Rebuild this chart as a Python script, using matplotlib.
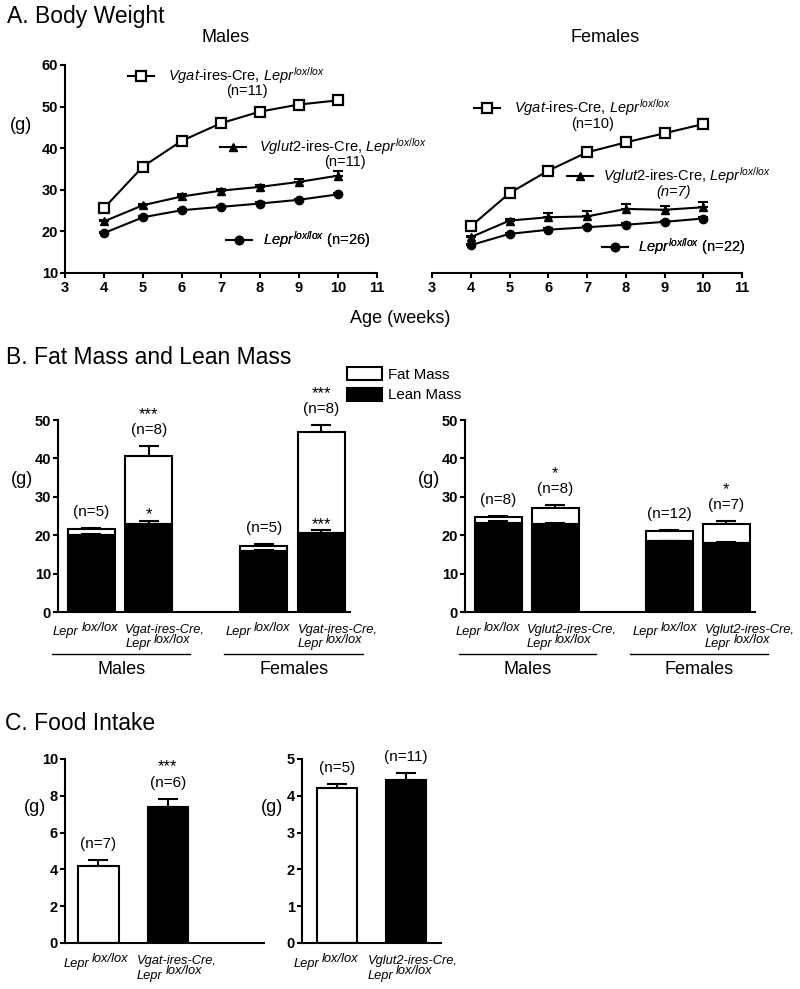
import matplotlib.pyplot as plt
import matplotlib.transforms as mtransforms
import numpy as np

W, H = 800, 989

plt.rcParams.update({
    "font.family": ["Liberation Sans", "DejaVu Sans"],
    "mathtext.fontset": "custom",
    "mathtext.rm": "Liberation Sans",
    "mathtext.it": "Liberation Sans:italic",
    "mathtext.bf": "Liberation Sans:bold",
    "axes.linewidth": 1.5,
    "axes.spines.top": False,
    "axes.spines.right": False,
    "xtick.major.width": 1.5,
    "ytick.major.width": 1.5,
    "xtick.major.size": 3.6,
    "ytick.major.size": 3.6,
    "xtick.major.pad": 2.5,
    "ytick.major.pad": 1.5,
    "xtick.labelsize": 10.5,
    "ytick.labelsize": 10.5,
})

# ---------------------------------------------------------------------------
# Data
# ---------------------------------------------------------------------------
weeks = [4, 5, 6, 7, 8, 9, 10]

male_vgat = [25.6, 35.6, 41.8, 46.0, 48.8, 50.5, 51.5]
male_vgat_err = [0.6, 0.7, 0.7, 0.7, 0.7, 0.7, 0.8]
male_vglut = [22.4, 26.3, 28.4, 29.8, 30.7, 31.9, 33.4]
male_vglut_err = [0.4, 0.4, 0.5, 0.5, 0.5, 0.6, 1.0]
male_lepr = [19.6, 23.4, 25.1, 25.9, 26.7, 27.6, 28.9]
male_lepr_err = [0.3, 0.3, 0.3, 0.3, 0.3, 0.3, 0.4]

female_vgat = [21.2, 29.2, 34.6, 39.0, 41.4, 43.6, 45.8]
female_vgat_err = [0.5, 0.8, 0.8, 0.8, 1.0, 1.0, 1.2]
female_vglut = [18.6, 22.6, 23.4, 23.6, 25.4, 25.2, 25.8]
female_vglut_err = [0.4, 0.5, 1.1, 1.2, 1.2, 1.0, 1.3]
female_lepr = [16.7, 19.4, 20.4, 21.0, 21.6, 22.3, 23.1]
female_lepr_err = [0.3, 0.3, 0.3, 0.3, 0.3, 0.3, 0.3]

# B: body composition, order = male ctrl, male KO, female ctrl, female KO
comp_pos = [0, 1, 3, 4]
vgat_lean = [20.0, 23.0, 15.8, 20.5]
vgat_lean_err = [0.4, 0.8, 0.3, 0.8]
vgat_total = [21.5, 40.5, 17.3, 47.0]
vgat_total_err = [0.3, 2.6, 0.3, 1.7]
vgat_n = ["(n=5)", "(n=8)", "(n=5)", "(n=8)"]
vgat_total_sig = ["", "***", "", "***"]
vgat_lean_sig = ["", "*", "", "***"]

vglut_lean = [23.3, 23.0, 18.4, 18.0]
vglut_lean_err = [0.5, 0.3, 0.2, 0.2]
vglut_total = [24.8, 27.1, 21.1, 22.8]
vglut_total_err = [0.3, 0.8, 0.3, 0.8]
vglut_n = ["(n=8)", "(n=8)", "(n=12)", "(n=7)"]
vglut_total_sig = ["", "*", "", "*"]
vglut_lean_sig = ["", "", "", ""]

# C: food intake
food_pos = [0, 1]
food_vgat = [4.2, 7.4]
food_vgat_err = [0.3, 0.45]
food_vgat_n = ["(n=7)", "(n=6)"]
food_vgat_sig = ["", "***"]
food_vglut = [4.2, 4.42]
food_vglut_err = [0.12, 0.2]
food_vglut_n = ["(n=5)", "(n=11)"]
food_vglut_sig = ["", ""]

fig = plt.figure(figsize=(W / 100, H / 100), dpi=100)
PT = 0.72  # points per pixel at dpi 100


def px_axes(l, t, r, b):
    return fig.add_axes([l / W, 1 - b / H, (r - l) / W, (b - t) / H])


def fig_text(x, y, s, **kw):
    fig.text(x / W, 1 - y / H, s, **kw)


def bold_ticks(ax):
    for t in ax.get_xticklabels() + ax.get_yticklabels():
        t.set_fontweight("bold")


def upper(err):
    return [np.zeros(len(err)), err]


# ---------------------------------------------------------------------------
# A. Body weight
# ---------------------------------------------------------------------------
fig_text(7, 16, "A. Body Weight", fontsize=16.5, va="center", ha="left")
fig_text(226, 37, "Males", fontsize=13, ha="center", va="center")
fig_text(605, 37, "Females", fontsize=13, ha="center", va="center")
fig_text(400, 318, "Age (weeks)", fontsize=13, ha="center", va="center")
fig_text(21, 125, "(g)", fontsize=13, ha="center", va="center")

line_kw = dict(color="black", lw=1.5, ecolor="black", elinewidth=1.5, capthick=1.5, capsize=3.5)


def growth(ax, vgat, vgat_err, vglut, vglut_err, lepr, lepr_err):
    h1 = ax.errorbar(weeks, vgat, yerr=upper(vgat_err), marker="s", ms=7, mfc="white",
                     mec="black", mew=1.6, **line_kw)
    h2 = ax.errorbar(weeks, vglut, yerr=upper(vglut_err), marker="^", ms=6, mfc="black",
                     mec="black", **line_kw)
    h3 = ax.errorbar(weeks, lepr, yerr=upper(lepr_err), marker="o", ms=6, mfc="black",
                     mec="black", **line_kw)
    ax.set_xlim(3, 11)
    ax.set_ylim(10, 60)
    ax.set_xticks(range(3, 12))
    ax.set_yticks(range(10, 61, 10))
    bold_ticks(ax)
    return h1[0], h2[0], h3[0]


def key(ax, handle, label, x, y, gap=1.0):
    leg = ax.legend([handle], [label], loc="center left", bbox_to_anchor=(x / W, 1 - y / H),
                    bbox_transform=fig.transFigure, frameon=False, handlelength=1.75,
                    handletextpad=gap, borderpad=0, borderaxespad=0, fontsize=10.5)
    ax.add_artist(leg)


VGAT_KEY = r"$Vgat$-ires-Cre, $Lepr^{lox/lox}$"
VGLUT_KEY = r"$\mathit{Vglut2}$-ires-Cre, $Lepr^{lox/lox}$"

axm = px_axes(65, 65, 377, 273)
hm = growth(axm, male_vgat, male_vgat_err, male_vglut, male_vglut_err, male_lepr, male_lepr_err)
key(axm, hm[0], VGAT_KEY, 128, 76)
fig_text(247, 91, "(n=11)", fontsize=10.5, ha="center", va="center")
key(axm, hm[1], VGLUT_KEY, 220, 147, 0.9)
fig_text(345, 162, "(n=11)", fontsize=10.5, ha="center", va="center")
key(axm, hm[2], r"$Lepr^{lox/lox}$ (n=26)", 226, 240, 0.8)

axf = px_axes(432, 65, 742, 273)
hf = growth(axf, female_vgat, female_vgat_err, female_vglut, female_vglut_err, female_lepr,
            female_lepr_err)
axf.spines["left"].set_visible(False)
axf.tick_params(axis="y", left=False, labelleft=False)
key(axf, hf[0], VGAT_KEY, 474, 108)
fig_text(593, 124, "(n=10)", fontsize=10.5, ha="center", va="center")
key(axf, hf[1], VGLUT_KEY, 567, 176, 0.75)
fig_text(674, 192, "(n=7)", fontsize=10.5, ha="center", va="center", style="italic")
key(axf, hf[2], r"$Lepr^{lox/lox}$ (n=22)", 602, 247, 0.75)


# ---------------------------------------------------------------------------
# shared helpers for the bar panels
# ---------------------------------------------------------------------------
def note(ax, x, y, s, off_px, size=11, va="center"):
    ax.annotate(s, (x, y), xytext=(0, off_px * PT), textcoords="offset points", ha="center",
                va=va, fontsize=size)


def gene_labels(ax, positions, ko_first, ctrl_shift, ko_shift):
    """Italic genotype labels under the bars, superscript raised a little."""
    trans = mtransforms.blended_transform_factory(ax.transData, ax.transAxes)
    kw = dict(xycoords=trans, textcoords="offset points", va="baseline", style="italic",
              fontsize=9.3, annotation_clip=False)
    for i, p in enumerate(positions):
        if i % 2 == 0:
            dx = ctrl_shift[i // 2]
            ax.annotate("Lepr", (p, 0), xytext=(dx * PT, -23.5 * PT), ha="right", **kw)
            ax.annotate("lox/lox", (p, 0), xytext=((dx + 3) * PT, -19 * PT), ha="left", **kw)
        else:
            dx = ko_shift[i // 2]
            ax.annotate(ko_first, (p, 0), xytext=(dx * PT, -21 * PT), ha="left", **kw)
            ax.annotate("Lepr", (p, 0), xytext=((dx + 25.5) * PT, -35.5 * PT), ha="right", **kw)
            ax.annotate("lox/lox", (p, 0), xytext=((dx + 28.5) * PT, -31 * PT), ha="left",
                        **kw)


# ---------------------------------------------------------------------------
# B. Fat mass and lean mass
# ---------------------------------------------------------------------------
fig_text(6, 357, "B. Fat Mass and Lean Mass", fontsize=16.5, ha="left", va="center")
fig_text(22, 480, "(g)", fontsize=13, ha="center", va="center")
fig_text(429, 480, "(g)", fontsize=13, ha="center", va="center")

bar_kw = dict(edgecolor="black", linewidth=1.5, width=0.82)
err_kw = dict(fmt="none", ecolor="black", elinewidth=1.5, capthick=1.5, capsize=7)


def composition(ax, lean, lean_err, total, total_err, n, total_sig, lean_sig, ko_first,
                ctrl_shift, ko_shift):
    fat = np.array(total) - np.array(lean)
    ax.errorbar(comp_pos, total, yerr=upper(total_err), zorder=1, **err_kw)
    fat_bars = ax.bar(comp_pos, fat, bottom=lean, color="white", zorder=2, **bar_kw)
    ax.errorbar(comp_pos, lean, yerr=upper(lean_err), zorder=3, **err_kw)
    lean_bars = ax.bar(comp_pos, lean, color="black", zorder=4, **bar_kw)
    for x, t, e, lab, s in zip(comp_pos, total, total_err, n, total_sig):
        note(ax, x, t + e, lab, 16)
        if s:
            note(ax, x, t + e, s, 27, size=12, va="baseline")
    for x, l, e, s in zip(comp_pos, lean, lean_err, lean_sig):
        if s:
            note(ax, x, l + e, s, 1.5, size=12, va="baseline")
    ax.set_ylim(0, 50)
    ax.set_yticks(range(0, 51, 10))
    ax.set_xlim(-0.58, 4.5)
    ax.set_xticks([])
    bold_ticks(ax)
    gene_labels(ax, comp_pos, ko_first, ctrl_shift, ko_shift)
    trans = mtransforms.blended_transform_factory(ax.transData, ax.transAxes)
    for (a, b), name in zip([(0, 1), (3, 4)], ["Males", "Females"]):
        ax.plot([a - 0.69, b + 0.72], [-0.219, -0.219], color="black", lw=1.0,
                transform=trans, clip_on=False)
        ax.text((a + b) / 2 + 0.02, -0.30, name, transform=trans, ha="center", va="center",
                fontsize=13)
    return fat_bars, lean_bars


axb1 = px_axes(58, 420, 350, 612)
fat_h, lean_h = composition(axb1, vgat_lean, vgat_lean_err, vgat_total, vgat_total_err,
                            vgat_n, vgat_total_sig, vgat_lean_sig, "Vgat-ires-Cre,",
                            [-13, -12.5], [-23.5, -23.5])
axb2 = px_axes(465, 420, 755, 612)
composition(axb2, vglut_lean, vglut_lean_err, vglut_total, vglut_total_err, vglut_n,
            vglut_total_sig, vglut_lean_sig, "Vglut2-ires-Cre,", [-17, -11.5], [-28.5, -21.5])

fig.legend([fat_h, lean_h], ["Fat Mass", "Lean Mass"], loc="upper left",
           bbox_to_anchor=(347 / W, 1 - 367 / H), frameon=False, fontsize=10.8,
           handlelength=2.3, handleheight=0.95, handletextpad=0.4, labelspacing=0.4,
           borderpad=0, borderaxespad=0)

# ---------------------------------------------------------------------------
# C. Food intake
# ---------------------------------------------------------------------------
fig_text(5, 723, "C. Food Intake", fontsize=16.5, ha="left", va="center")
fig_text(35, 808, "(g)", fontsize=13, ha="center", va="center")
fig_text(272, 808, "(g)", fontsize=13, ha="center", va="center")


def food(ax, vals, errs, n, sig, ko_first, ymax, ystep, xlim, ctrl_shift, ko_shift):
    ax.errorbar(food_pos, vals, yerr=upper(errs), fmt="none", ecolor="black", elinewidth=1.5,
                capthick=1.5, capsize=7, zorder=1)
    ax.bar(food_pos, vals, color=["white", "black"], edgecolor="black", linewidth=1.5,
           width=0.58, zorder=2)
    for x, v, e, lab, s in zip(food_pos, vals, errs, n, sig):
        note(ax, x, v + e, lab, 16)
        if s:
            note(ax, x, v + e, s, 27, size=12, va="baseline")
    ax.set_ylim(0, ymax)
    ax.set_yticks(np.arange(0, ymax + 0.1, ystep))
    ax.set_xlim(*xlim)
    ax.set_xticks([])
    bold_ticks(ax)
    gene_labels(ax, food_pos, ko_first, ctrl_shift, ko_shift)


axc1 = px_axes(65, 759, 264, 943)
food(axc1, food_vgat, food_vgat_err, food_vgat_n, food_vgat_sig, "Vgat-ires-Cre,", 10, 2,
     (-0.48, 2.38), [-9.5], [-31])
axc2 = px_axes(302, 759, 441, 943)
food(axc2, food_vglut, food_vglut_err, food_vglut_n, food_vglut_sig, "Vglut2-ires-Cre,", 5, 1,
     (-0.5, 1.5), [-18], [-38.5])

fig.savefig("out.png", dpi=100)
